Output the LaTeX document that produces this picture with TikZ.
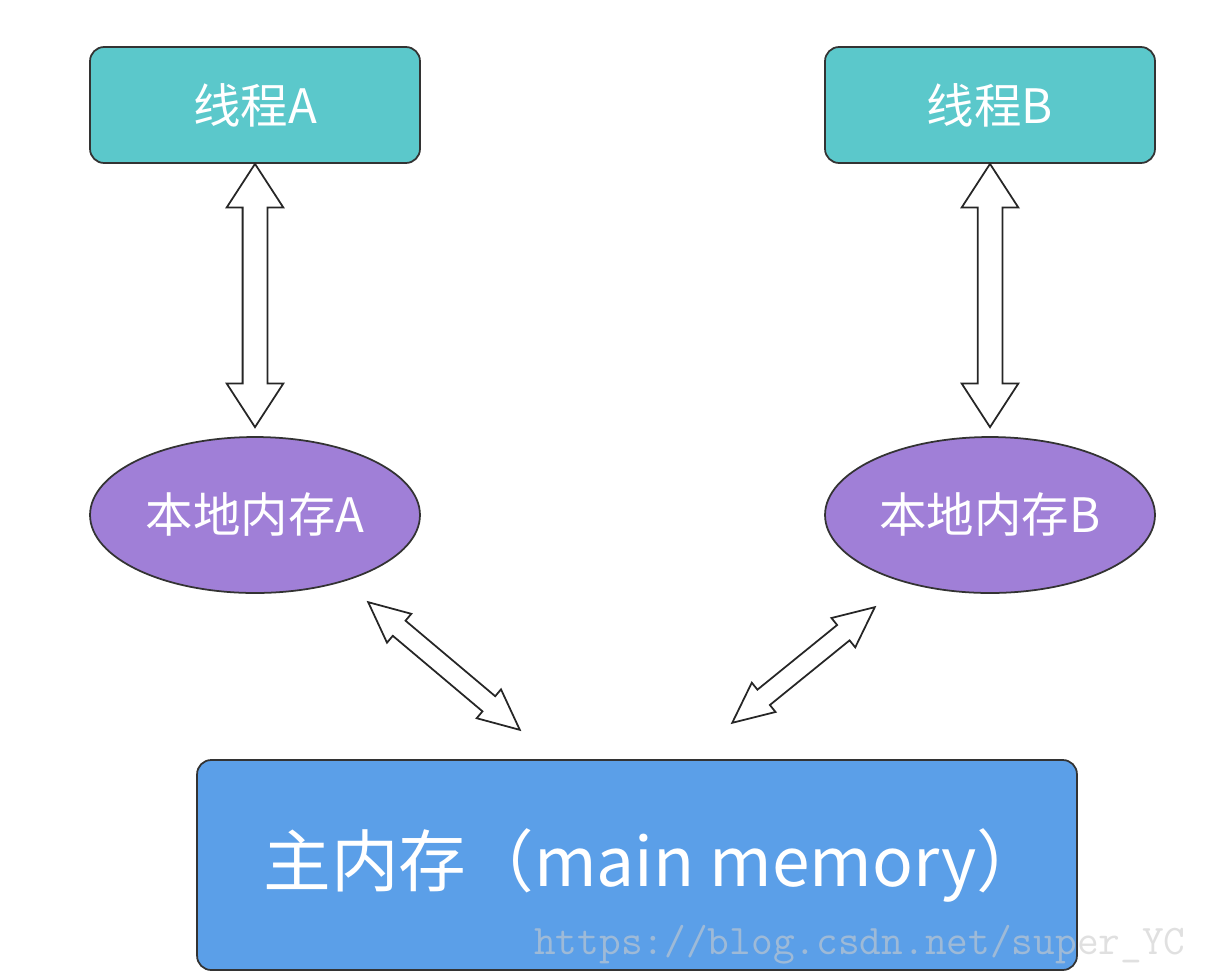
\documentclass[tikz,border=0pt]{standalone}
\usepackage{fontspec}
\newfontfamily\cjk{Noto Sans CJK SC}
\usetikzlibrary{shapes.geometric,shapes.arrows,calc}
\definecolor{threadcol}{HTML}{5BC8CB}
\definecolor{localcol}{HTML}{A07FD7}
\definecolor{maincol}{HTML}{5B9FE8}
\begin{document}
\begin{tikzpicture}[x=0.02cm, y=-0.02cm,
	thread/.style={rectangle, rounded corners=8pt, fill=threadcol, draw=black!80, line width=1pt, minimum width=6.6cm, minimum height=2.32cm, text=white, font=\cjk\fontsize{27}{30}\selectfont},
	localmem/.style={ellipse, inner sep=0pt, fill=localcol, draw=black!80, line width=1pt, minimum width=6.6cm, minimum height=3.12cm, text=white, font=\cjk\fontsize{27}{30}\selectfont},
	mainmem/.style={rectangle, rounded corners=8pt, fill=maincol, draw=black!80, line width=1pt, minimum width=17.6cm, minimum height=4.2cm, text=white, font=\cjk\fontsize{38.5}{42}\selectfont},
	bigarrow/.style={double arrow, sloped, draw=black!85, fill=white, line width=1pt, inner xsep=0pt, inner ysep=0.23cm, minimum width=0pt, double arrow head extend=0.32cm, double arrow head indent=0pt, double arrow tip angle=66},
	smallarrow/.style={double arrow, sloped, draw=black!85, fill=white, line width=1pt, inner xsep=0pt, inner ysep=0.18cm, minimum width=0pt, double arrow head extend=0.18cm, double arrow head indent=0pt, double arrow tip angle=50}]
	\useasboundingbox (0,0) rectangle (1206,978);

	\node[thread](thrA) at (255,105){线程A};
	\node[thread](thrB) at (990,105){线程B};

	\node[localmem](memA) at (255,515){本地内存A};
	\node[localmem](memB) at (990,515){本地内存B};

	\node[mainmem](main) at (637,865){\hspace*{0.68cm}主内存（main memory）};

	% free ends of the arrows
	\coordinate (endA) at ($(memA.north)+(0,-9)$);
	\coordinate (endB) at ($(memB.north)+(0,-9)$);
	\coordinate (lowA) at (368,602);
	\coordinate (upA) at (520,730);
	\coordinate (lowB) at (875,607);
	\coordinate (upB) at (732,723);

	\path let \p1=($(endA)-(thrA.south)$), \n1={veclen(\x1,\y1)} in (thrA.south) -- (endA) node[bigarrow, midway, minimum height=\n1]{};
	\path let \p1=($(endB)-(thrB.south)$), \n1={veclen(\x1,\y1)} in (thrB.south) -- (endB) node[bigarrow, midway, minimum height=\n1]{};
	\path let \p1=($(upA)-(lowA)$), \n1={veclen(\x1,\y1)} in (lowA) -- (upA) node[smallarrow, midway, minimum height=\n1]{};
	\path let \p1=($(upB)-(lowB)$), \n1={veclen(\x1,\y1)} in (lowB) -- (upB) node[smallarrow, midway, minimum height=\n1]{};

	\node[anchor=west, text=white!80!black, opacity=0.6, font=\ttfamily\fontsize{24}{24}\selectfont](mark) at (528,945){https://blog.csdn.net/super\_YC};

\end{tikzpicture}
\end{document}
